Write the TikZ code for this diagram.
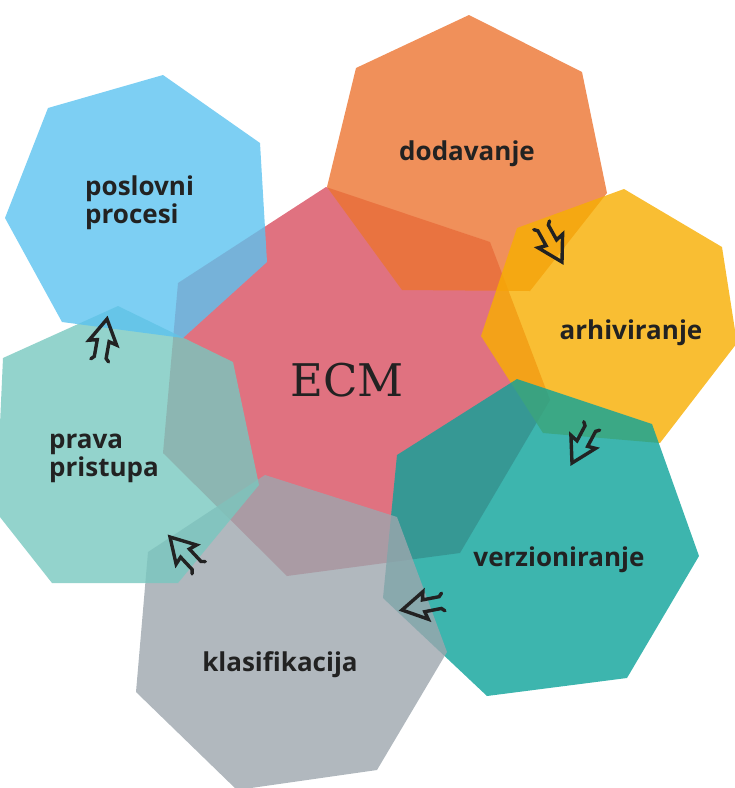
\documentclass[tikz,border=0pt]{standalone}
\usepackage{fontspec}
\setmainfont{Open Sans}
\newfontfamily\slabfont{DejaVu Serif}
\usetikzlibrary{positioning}

\definecolor{ecmpink}{RGB}{224,114,128}
\definecolor{dodorange}{RGB}{236,116,49}
\definecolor{arhyellow}{RGB}{248,174,0}
\definecolor{verteal}{RGB}{12,162,154}
\definecolor{klagrey}{RGB}{157,166,174}
\definecolor{pravateal}{RGB}{120,200,191}
\definecolor{posblue}{RGB}{92,195,240}
\definecolor{txt}{RGB}{34,34,34}

\begin{document}
\begin{tikzpicture}[x=1pt, y=-1pt,
hept/.style={fill=#1, fill opacity=0.8},
lbl/.style={font=\bfseries\fontsize{26}{28}\selectfont, text=txt, align=left, inner sep=0pt},
pics/turn/.style={code={
  \draw[txt, line width=3.4pt, line join=miter, line cap=round]
    (-42,-9) -- (-39,-6) -- (-22,-6) -- (-24,-14) -- (0,0)
    -- (-24,14) -- (-22,6) -- (-39,6) -- (-42,9);}}]

\useasboundingbox (0,0) rectangle (735,788);

% hexagon-ish heptagons
\fill[ecmpink] (326,187) -- (490,242) -- (550,400) -- (460,553) -- (287,576) -- (163,453) -- (178,283) -- cycle;
\fill[hept=dodorange] (356,68) -- (469,15) -- (582,72) -- (607,193) -- (530,291) -- (402,290) -- (327,187) -- cycle;
\fill[hept=arhyellow] (517,228) -- (624,189) -- (722,247) -- (737,343) -- (660,443) -- (543,433) -- (481,336) -- cycle;
\fill[hept=verteal] (517,379) -- (652,424) -- (699,556) -- (627,678) -- (487,696) -- (383,598) -- (397,455) -- cycle;
\fill[hept=klagrey] (265,475) -- (397,517) -- (447,652) -- (377,770) -- (237,790) -- (136,692) -- (148,552) -- cycle;
\fill[hept=pravateal] (118,306) -- (233,362) -- (259,485) -- (178,583) -- (52,583) -- (-4,512) -- (3,358) -- cycle;
\fill[hept=posblue] (48,108) -- (163,75) -- (260,143) -- (267,262) -- (183,338) -- (62,322) -- (5,218) -- cycle;

\node[font=\slabfont\fontsize{45}{50}\selectfont, text=txt] (ecm) at (347,380) {ECM};

\node[lbl] (dod) at (467,154) {dodavanje};
\node[lbl] (arh) at (631,333) {arhiviranje};
\node[lbl] (ver) at (559,560) {verzioniranje};
\node[lbl] (kla) at (280,665) {klasifikacija};
\node[lbl, anchor=west] (prava) at (49,458) {prava\\pristupa};
\node[lbl, anchor=west] (pos) at (85,203) {poslovni\\procesi};

% arrows between the steps
\coordinate (d2a) at (562,262);
\coordinate (a2v) at (572,463);
\coordinate (v2k) at (402,610);
\coordinate (k2p) at (170,537);
\coordinate (p2p) at (107,319);

\pic[rotate=-61] at (d2a) {turn};
\pic[rotate=-118] at (a2v) {turn};
\pic[rotate=191] at (v2k) {turn};
\pic[rotate=133] at (k2p) {turn};
\pic[rotate=80] at (p2p) {turn};

\end{tikzpicture}
\end{document}
